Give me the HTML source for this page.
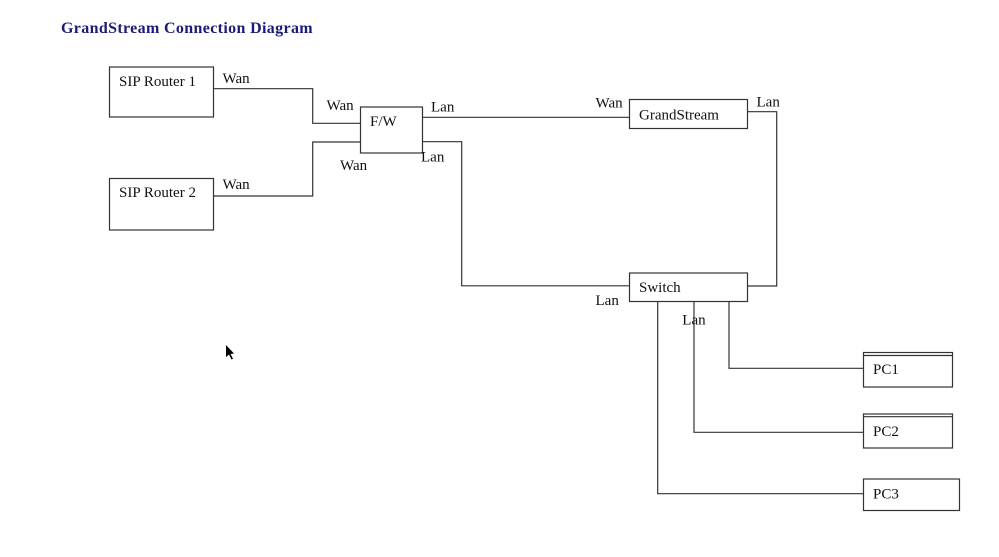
<!DOCTYPE html>
<html>
<head>
<meta charset="utf-8">
<style>
  html, body { margin:0; padding:0; background:#fff; }
  body { width:999px; height:557px; overflow:hidden; }
  svg { display:block; }
  text { font-family: "Liberation Serif", serif; fill:#111; }
</style>
</head>
<body>
<svg width="999" height="557" viewBox="0 0 999 557" xmlns="http://www.w3.org/2000/svg">
  <!-- Title -->
  <text x="61" y="33" style="font-size:16px;font-weight:bold;fill:#1b1b78;letter-spacing:0.35px;">GrandStream Connection Diagram</text>

  <g fill="none" stroke="#333" stroke-width="1.2">
    <!-- boxes -->
    <rect x="109.5" y="67" width="104" height="50"/>
    <rect x="109.5" y="178.5" width="104" height="51.5"/>
    <rect x="360.5" y="107" width="62" height="46"/>
    <rect x="629.5" y="99.5" width="118" height="29"/>
    <rect x="629.5" y="273" width="118" height="28.5"/>
    <rect x="863.5" y="352.5" width="89" height="34.5"/>
    <line x1="863.5" y1="355.5" x2="952.5" y2="355.5"/>
    <rect x="863.5" y="414" width="89" height="34"/>
    <line x1="863.5" y1="416.7" x2="952.5" y2="416.7"/>
    <rect x="863.5" y="479" width="96" height="31.5"/>

    <!-- connectors -->
    <polyline points="213.5,88.7 312.7,88.7 312.7,123.3 360.5,123.3"/>
    <polyline points="213.5,196 312.7,196 312.7,142 360.5,142"/>
    <line x1="422.5" y1="117.3" x2="629.5" y2="117.3"/>
    <polyline points="422.5,141.7 461.7,141.7 461.7,285.8 629.5,285.8"/>
    <polyline points="747.5,111.7 776.7,111.7 776.7,286 747.5,286"/>
    <polyline points="729,301.5 729,368.3 863.5,368.3"/>
    <polyline points="694,301.5 694,432.3 863.5,432.3"/>
    <polyline points="657.7,301.5 657.7,493.7 863.5,493.7"/>
  </g>

  <!-- labels -->
  <g style="font-size:15px;">
    <text x="119" y="86">SIP Router 1</text>
    <text x="119" y="197">SIP Router 2</text>
    <text x="370" y="126">F/W</text>
    <text x="639" y="119.5">GrandStream</text>
    <text x="639" y="292">Switch</text>
    <text x="873" y="374">PC1</text>
    <text x="873" y="436">PC2</text>
    <text x="873" y="498.5">PC3</text>

    <text x="222.5" y="83">Wan</text>
    <text x="222.5" y="189">Wan</text>
    <text x="326.5" y="110">Wan</text>
    <text x="340" y="170">Wan</text>
    <text x="431" y="111.5">Lan</text>
    <text x="421" y="161.5">Lan</text>
    <text x="595.5" y="107.5">Wan</text>
    <text x="756.5" y="106.5">Lan</text>
    <text x="595.5" y="305">Lan</text>
    <text x="682.3" y="324.3">Lan</text>
  </g>

  <!-- mouse cursor -->
  <polygon points="226,345 226,357 229,354.5 231.5,359.5 233,358.8 230.6,354 234,353.5" fill="#000"/>
</svg>
</body>
</html>
